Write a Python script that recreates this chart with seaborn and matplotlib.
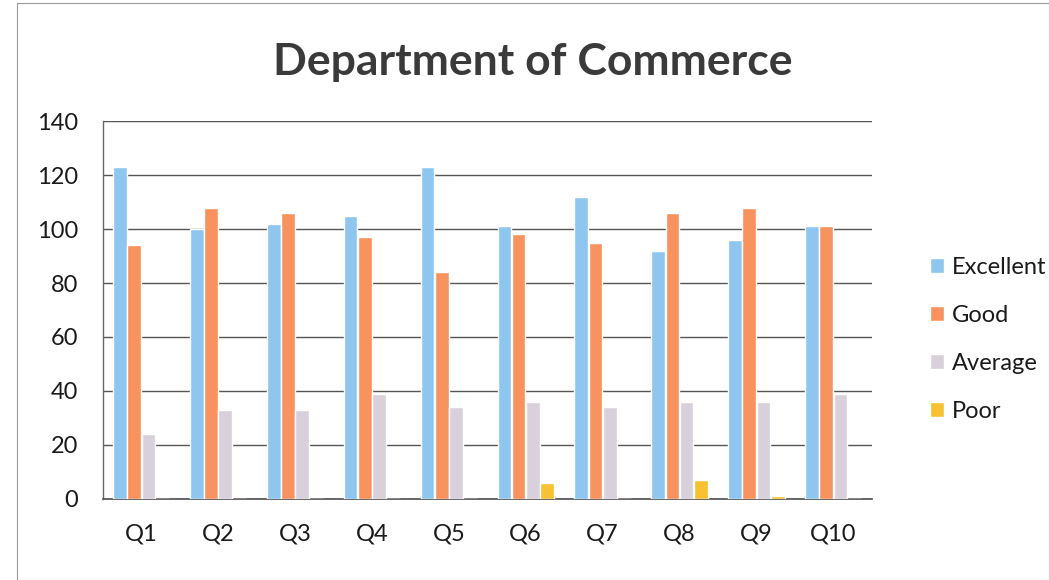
import pandas as pd
import matplotlib.pyplot as plt
import seaborn as sns
from matplotlib.patches import Rectangle

# Data
questions = ["Q1", "Q2", "Q3", "Q4", "Q5", "Q6", "Q7", "Q8", "Q9", "Q10"]
excellent = [123, 100, 102, 105, 123, 101, 112, 92, 96, 101]
good = [94, 108, 106, 97, 84, 98, 95, 106, 108, 101]
average = [24, 33, 33, 39, 34, 36, 34, 36, 36, 39]
poor = [0, 0, 0, 0, 0, 6, 0, 7, 1, 0]

series_names = ["Excellent", "Good", "Average", "Poor"]
colors = ["#8ec6ef", "#f8935f", "#d8d0da", "#f6c232"]

# long-form table for seaborn
rows = []
for name, vals in zip(series_names, [excellent, good, average, poor]):
    for q, v in zip(questions, vals):
        rows.append({"Question": q, "Rating": name, "Count": v})
df = pd.DataFrame(rows)

sns.set_theme(style="white")
plt.rcParams["font.family"] = ["Lato", "DejaVu Sans"]

fig = plt.figure(figsize=(10.49, 5.8), dpi=100)
ax = fig.add_axes([0.098, 0.14, 0.733, 0.651])

sns.barplot(data=df, x="Question", y="Count", hue="Rating", palette=colors,
            hue_order=series_names, order=questions, width=0.74, gap=0.04,
            saturation=1, ax=ax, zorder=3)

ax.set_ylim(0, 140)
ax.set_yticks(range(0, 141, 20))
ax.grid(axis="y", color="#555555", linewidth=1, zorder=0)
ax.set_xlabel("")
ax.set_ylabel("")
ax.tick_params(axis="both", length=0, labelsize=17, colors="#1a1a1a")
ax.tick_params(axis="x", pad=18)
ax.tick_params(axis="y", pad=18)
for side in ["top", "right"]:
    ax.spines[side].set_visible(False)
ax.spines["left"].set_color("#666666")
ax.spines["bottom"].set_color("#555555")
ax.spines["left"].set_linewidth(1)

handles, labels = ax.get_legend_handles_labels()
ax.get_legend().remove()
fig.legend(handles, labels, loc="center left", bbox_to_anchor=(0.866, 0.415),
           frameon=False, fontsize=17, handlelength=0.6, handleheight=0.6,
           handletextpad=0.35, labelspacing=1.15, labelcolor="#1a1a1a")

fig.text(0.508, 0.893, "Department of Commerce", ha="center", va="center",
         fontsize=32, fontweight="bold", color="#3a3a3a")

# light frame around the chart, like the scanned page
fig.patches.append(Rectangle((0.016, 0.0), 0.984, 0.995, transform=fig.transFigure,
                             fill=False, edgecolor="#999999", linewidth=0.8))

fig.savefig("out.png", dpi=100)
